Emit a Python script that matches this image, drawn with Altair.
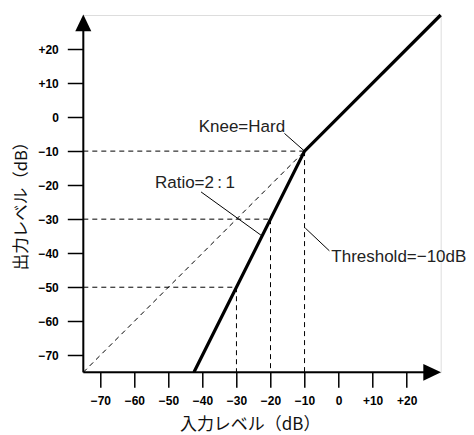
import altair as alt
import pandas as pd

# ---- data ----
tick_values = [-70, -60, -50, -40, -30, -20, -10, 0, 10, 20]
domain_min, domain_max = -75, 30

curve_in = [-42.5, -10, 30]
curve_out = [-75, -10, 30]

dash_x1 = [-75, -75, -75, -10, -20, -30, -75]
dash_y1 = [-10, -30, -50, -10, -30, -50, -75]
dash_x2 = [-10, -20, -30, -10, -20, -30, -10]
dash_y2 = [-10, -30, -50, -75, -75, -75, -10]

lead_x1 = [-15.9, -40.4, -9.8]
lead_y1 = [-4.8, -22.0, -32.6]
lead_x2 = [-10.0, -22.8, -2.7]
lead_y2 = [-10.0, -34.7, -39.3]

label_text = ["Knee=Hard", "Ratio=2\u2009:\u20091", "Threshold=−10dB"]
label_x = [-28.4, -42.2, 17.7]
label_y = [-3.0, -19.4, -41.0]

axis_x1 = [-75, -75]
axis_y1 = [-75, -75]
axis_x2 = [-75, 27.5]
axis_y2 = [27.7, -75]

arrow_x = [-75, 27.5]
arrow_y = [27.7, -75]
arrow_dir = ["up", "right"]

x_title = "入力レベル（dB）"
y_title = "出力レベル（dB）"

# ---- frames ----
curve_df = pd.DataFrame({"x": curve_in, "y": curve_out})
dash_df = pd.DataFrame({"x": dash_x1, "y": dash_y1, "x2": dash_x2, "y2": dash_y2})
lead_df = pd.DataFrame({"x": lead_x1, "y": lead_y1, "x2": lead_x2, "y2": lead_y2})
label_df = pd.DataFrame({"x": label_x, "y": label_y, "t": label_text})
axis_df = pd.DataFrame({"x": axis_x1, "y": axis_y1, "x2": axis_x2, "y2": axis_y2})
arrow_df = pd.DataFrame({"x": arrow_x, "y": arrow_y, "d": arrow_dir})

label_expr = "datum.value < 0 ? '−' + abs(datum.value) : (datum.value > 0 ? '+' + datum.value : '0')"

xscale = alt.Scale(domain=[domain_min, domain_max], nice=False, zero=False)
yscale = alt.Scale(domain=[domain_min, domain_max], nice=False, zero=False)

xaxis = alt.Axis(values=tick_values, labelExpr=label_expr, tickSize=15, tickColor="black",
                 tickWidth=1.5, domain=False, grid=False, labelFont="Liberation Sans",
                 labelFontWeight="bold", labelFontSize=12, labelColor="black", labelPadding=8,
                 labelOverlap=False, labelBound=False, labelFlush=False,
                 title=x_title, titleFont="Noto Sans CJK JP", titleFontSize=17,
                 titleFontWeight="normal", titleColor="#111", titleX=166.4, titleY=52,
                 titleBaseline="middle", titleAlign="center")
yaxis = alt.Axis(values=tick_values, labelExpr=label_expr, tickSize=16, tickColor="black",
                 tickWidth=1.5, domain=False, grid=False, labelFont="Liberation Sans",
                 labelFontWeight="bold", labelFontSize=12, labelColor="black", labelPadding=9,
                 labelOverlap=False, labelBound=False, labelFlush=False,
                 title=y_title, titleFont="Noto Sans CJK JP", titleFontSize=16.5,
                 titleFontWeight="normal", titleColor="#111", titleX=-62, titleY=186.5,
                 titleBaseline="middle", titleAlign="center", titleAngle=270)


def ex():
    return alt.X("x:Q", scale=xscale, axis=xaxis)


def ey():
    return alt.Y("y:Q", scale=yscale, axis=yaxis)


dashes = alt.Chart(dash_df).mark_rule(strokeDash=[5, 4], strokeWidth=1, color="black").encode(
    x=ex(), y=ey(), x2="x2:Q", y2="y2:Q")

leads = alt.Chart(lead_df).mark_rule(strokeWidth=1, color="black").encode(
    x=ex(), y=ey(), x2="x2:Q", y2="y2:Q")

axes_lines = alt.Chart(axis_df).mark_rule(strokeWidth=2, color="black").encode(
    x=ex(), y=ey(), x2="x2:Q", y2="y2:Q")

curve = alt.Chart(curve_df).mark_line(strokeWidth=3.2, color="black", clip=False).encode(
    x=ex(), y=ey())

arrows = alt.Chart(arrow_df).mark_point(filled=True, color="black", opacity=1, size=279,
                                        strokeWidth=0).encode(
    x=ex(), y=ey(),
    shape=alt.Shape("d:N", scale=alt.Scale(domain=["up", "right"],
                                           range=["M0,-1L0.96,1L-0.96,1Z", "M1.06,0L-1.06,-1L-1.06,1Z"]),
                    legend=None))

labels = alt.Chart(label_df).mark_text(font="Liberation Sans", fontSize=17, color="#222",
                                       align="center", baseline="middle").encode(
    x=ex(), y=ey(), text="t:N")

chart = alt.layer(dashes, leads, axes_lines, curve, arrows, labels).properties(
    width=357.4, height=357.3,
    autosize=alt.AutoSizeParams(type="none"),
    padding={"left": 75.3, "top": 7, "right": 25, "bottom": 62},
).configure_view(stroke=None).configure(background="white")

chart.save("out.html", embed_options={"renderer": "svg", "actions": False})
